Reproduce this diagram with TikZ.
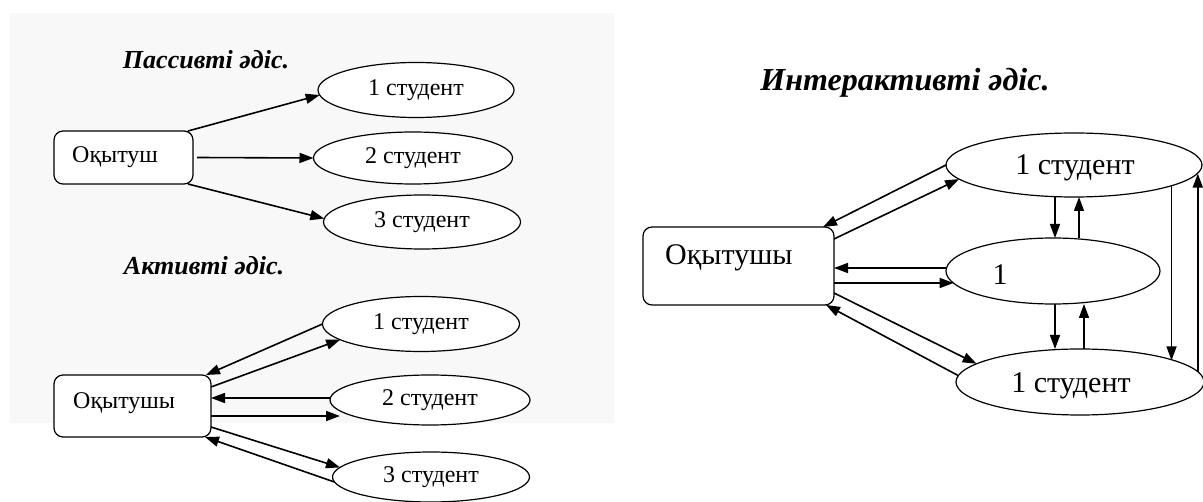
\documentclass[tikz,border=0pt]{standalone}
\usepackage{fontspec}
\setmainfont{Liberation Serif}
\usetikzlibrary{shapes.geometric,arrows.meta,calc}
\definecolor{bggrey}{HTML}{F8F8F8}
\begin{document}
\begin{tikzpicture}[x=1pt,y=-1pt,
  box/.style={draw, line width=1.2pt, rounded corners=9pt, fill=white, inner sep=0pt, outer sep=0pt},
  ell/.style={draw, ellipse, line width=1.2pt, fill=white, inner sep=0pt, outer sep=0pt},
  arr/.style={line width=1.6pt, -{Triangle[length=14pt,width=10pt]}},
  ttl/.style={font=\fontsize{26}{30}\selectfont\bfseries\itshape, inner sep=0pt},
  ttlb/.style={font=\fontsize{32}{36}\selectfont\bfseries\itshape, inner sep=0pt},
  lbl/.style={font=\fontsize{24}{28}\selectfont, inner sep=0pt},
  lblb/.style={font=\fontsize{30}{34}\selectfont, inner sep=0pt}]
\useasboundingbox (0,0) rectangle (1203,502);
\fill[bggrey] (10,13) rectangle (614,423);

% ---------- Passive ----------
\node[ttl] (tp) at (206,60) {Пассивті әдіс.};
\node[box, minimum width=139pt, minimum height=53pt] (pbox) at (123.5,157.5) {};
\node[lbl, anchor=west] (pboxt) at (72,157) {Оқытуш};
\node[ell, lbl, minimum width=196pt, minimum height=55pt] (pe1) at (416,90) {1 студент};
\node[ell, lbl, minimum width=199pt, minimum height=52pt] (pe2) at (413,158) {2 студент};
\node[ell, lbl, minimum width=197pt, minimum height=54pt] (pe3) at (422,222) {3 студент};
\draw[arr] ([xshift=-5pt]pbox.north east) -- (pe1.183);
\draw[arr] ([xshift=4pt]pbox.east) -- (pe2.west);
\draw[arr] ([xshift=-5pt]pbox.south east) -- (pe3.178);

% ---------- Active ----------
\node[ttl] (ta) at (204,266) {Активті әдіс.};
\node[box, minimum width=157pt, minimum height=62pt] (abox) at (132.5,406) {};
\node[lbl, anchor=west] (aboxt) at (73,403) {Оқытушы};
\node[ell, lbl, minimum width=197pt, minimum height=55pt] (ae1) at (421,324) {1 студент};
\node[ell, lbl, minimum width=200pt, minimum height=50pt] (ae2) at (430,400) {2 студент};
\node[ell, lbl, minimum width=197pt, minimum height=50pt] (ae3) at (431,477) {3 студент};
\draw[arr] (ae1.west) -- ([xshift=-5pt]abox.north east);
\draw[arr] ([yshift=19pt]abox.east) -- (ae1.191);
\coordinate (am1) at ([yshift=2pt]ae2.west);
\draw[arr] (am1) -- (am1 -| abox.east);
\coordinate (am2) at ([yshift=-10pt]abox.east);
\draw[arr] (am2) -- ([xshift=10pt]am2 -| ae2.west);
\draw[arr] ([yshift=-21pt]abox.east) -- (ae3.174);
\draw[arr] (ae3.183) -- ([xshift=-6pt]abox.south east);

% ---------- Interactive ----------
\node[ttlb] (ti) at (905,83) {Интерактивті әдіс.};
\node[box, minimum width=191pt, minimum height=78pt] (ibox) at (738.5,266) {};
\node[lblb, anchor=west] (iboxt) at (665,258) {Оқытушы};
\node[ell, minimum width=256pt, minimum height=64pt] (ie1) at (1074,165) {};
\node[lblb] (ie1t) at (1075,168) {1 студент};
\node[ell, minimum width=214pt, minimum height=66pt] (ie2) at (1053,271) {};
\node[lblb] (ie2t) at (1000,275) {1};
\node[ell, minimum width=248pt, minimum height=66pt] (ie3) at (1080,382) {};
\node[lblb] (ie3t) at (1071,386) {1 студент};

\draw[arr] (ie1.west) -- ([xshift=-11pt]ibox.north east);
\draw[arr] ([yshift=27pt]ibox.east) -- (ie1.187);
\coordinate (im1) at ([yshift=3pt]ie2.west);
\draw[arr] (im1) -- (im1 -| ibox.east);
\coordinate (im2) at ([yshift=-17pt]ibox.east);
\draw[arr] (im2) -- (im2 -| ie2.187);
\draw[arr] ([yshift=-27pt]ibox.east) -- (ie3.170);
\draw[arr] (ie3.177) -- ([xshift=-8pt]ibox.south east);

\coordinate (v1) at ([xshift=-19pt]ie1.south);
\draw[arr] (v1) -- (v1 |- ie2.north);
\coordinate (v2) at ([xshift=26pt]ie2.north);
\draw[arr] (v2) -- (v2 |- ie1.south);
\coordinate (v3) at ([xshift=2pt]ie2.south);
\draw[arr] (v3) -- (v3 |- ie3.north);
\coordinate (v4) at ([xshift=4pt]ie3.north);
\draw[arr] (v4) -- (v4 |- ie2.south);
\draw[arr] (ie1.-12) -- (ie1.-12 |- ie3.13);
\draw[arr] (ie3.5) -- (ie3.5 |- ie1.-4);
\end{tikzpicture}
\end{document}
